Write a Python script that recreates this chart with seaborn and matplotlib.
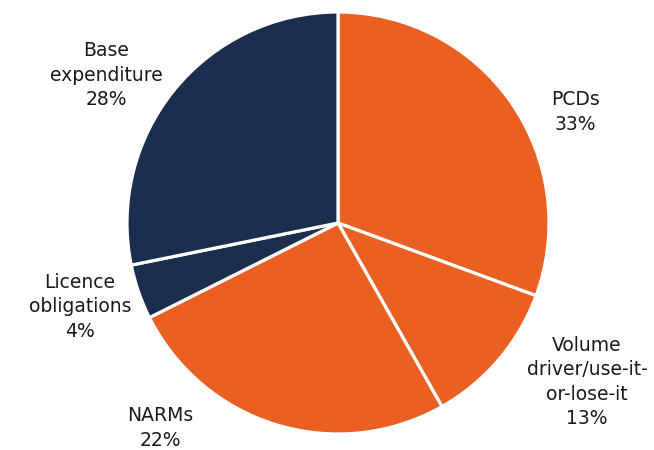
import matplotlib
matplotlib.use("Agg")
import matplotlib.pyplot as plt
import seaborn as sns

sns.set_theme(style="white")
plt.rcParams['font.family'] = ['DejaVu Sans']

categories = ["PCDs", "Volume\ndriver/use-it-\nor-lose-it", "NARMs", "Licence\nobligations", "Base\nexpenditure"]
shares = [30.6, 11.2, 25.8, 4.2, 28.2]          # wedge sizes as drawn
label_pct = [33, 13, 22, 4, 28]                  # percentages printed in labels
colors = ["#EA6022", "#EA6022", "#EA6022", "#1B2E4E", "#1B2E4E"]

W, H = 654, 450
cx, cy, R = 338, 223, 211
fig = plt.figure(figsize=(W / 100, H / 100), dpi=100)
ax = fig.add_axes([0, 0, 1, 1])
ax.pie(shares, colors=colors, startangle=90, counterclock=False, radius=1,
       wedgeprops=dict(edgecolor="white", linewidth=2.3))
ax.set_xlim(-cx / R, (W - cx) / R)
ax.set_ylim(-(H - cy) / R, cy / R)
ax.axis("off")

label_px = [(575, 112), (587, 382), (160, 428), (80, 307), (106, 75)]
for cat, pct, (px, py) in zip(categories, label_pct, label_px):
    ax.text((px - cx) / R, (cy - py) / R, f"{cat}\n{pct}%", ha="center", va="center",
            multialignment="center", fontsize=13.5, color="#1a1a1a", linespacing=1.35)

fig.savefig("out.png", dpi=100)
